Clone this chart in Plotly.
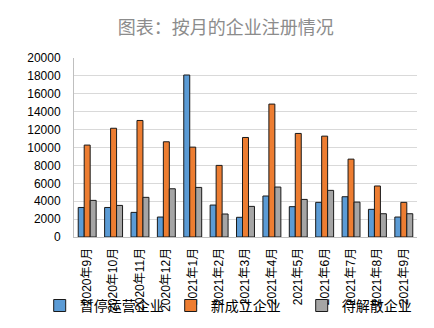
import plotly.graph_objects as go

categories = ["2020年9月", "2020年10月", "2020年11月", "2020年12月", "2021年1月", "2021年2月",
              "2021年3月", "2021年4月", "2021年5月", "2021年6月", "2021年7月", "2021年8月", "2021年9月"]
paused = [3300, 3300, 2750, 2230, 18100, 3570, 2200, 4580, 3390, 3870, 4500, 3090, 2230]
new_est = [10270, 12150, 13020, 10640, 10040, 8000, 11120, 14850, 11570, 11270, 8700, 5700, 3870]
dissolving = [4090, 3530, 4430, 5390, 5540, 2570, 3420, 5580, 4200, 5210, 3900, 2600, 2600]
series_names = ["暂停运营企业", "新成立企业", "待解散企业"]
colors = ["#5B9BD5", "#ED7D31", "#A5A5A5"]
y_ticks = list(range(0, 20001, 2000))
y_tick_text = [str(v) for v in y_ticks]

font_family = "Liberation Sans, Noto Sans CJK SC, sans-serif"

fig = go.Figure()
for name, vals, col in zip(series_names, [paused, new_est, dissolving], colors):
    fig.add_trace(go.Bar(
        x=categories, y=vals, name=name,
        marker=dict(color=col, line=dict(color="#1a1a1a", width=1)),
    ))

fig.update_layout(
    width=434, height=328,
    margin=dict(l=74, r=17, t=58, b=91, autoexpand=False),
    paper_bgcolor="white", plot_bgcolor="white",
    barmode="group", bargap=0.32, bargroupgap=0,
    font=dict(family=font_family, size=11, color="#000000"),
    title=dict(text="图表：按月的企业注册情况", x=0.52, xanchor="center", y=0.915, yanchor="middle",
               font=dict(family="Noto Sans CJK SC, sans-serif", size=18, color="#8c8c8c")),
    xaxis=dict(tickangle=-90, showline=True, linecolor="#bfbfbf", linewidth=1,
               ticks="", ticklabelstandoff=5,
               tickfont=dict(size=12, family=font_family, color="#000000"),
               showgrid=False, automargin=False),
    yaxis=dict(range=[0, 20000], tickvals=y_ticks, ticktext=y_tick_text, showgrid=True,
               gridcolor="#d9d9d9", gridwidth=1, showline=True, linecolor="#bfbfbf", linewidth=1,
               ticks="", ticklabelstandoff=10, zeroline=False, automargin=False,
               tickfont=dict(size=12, family=font_family, color="#000000")),
    legend=dict(orientation="h", x=-0.10, xanchor="left", y=-0.385, yanchor="middle",
                font=dict(size=14, family="Noto Sans CJK SC, sans-serif", color="#000000"),
                bgcolor="rgba(0,0,0,0)", itemwidth=30, traceorder="normal",
                entrywidth=86, entrywidthmode="pixels"),
)

fig.write_html("out.html")
